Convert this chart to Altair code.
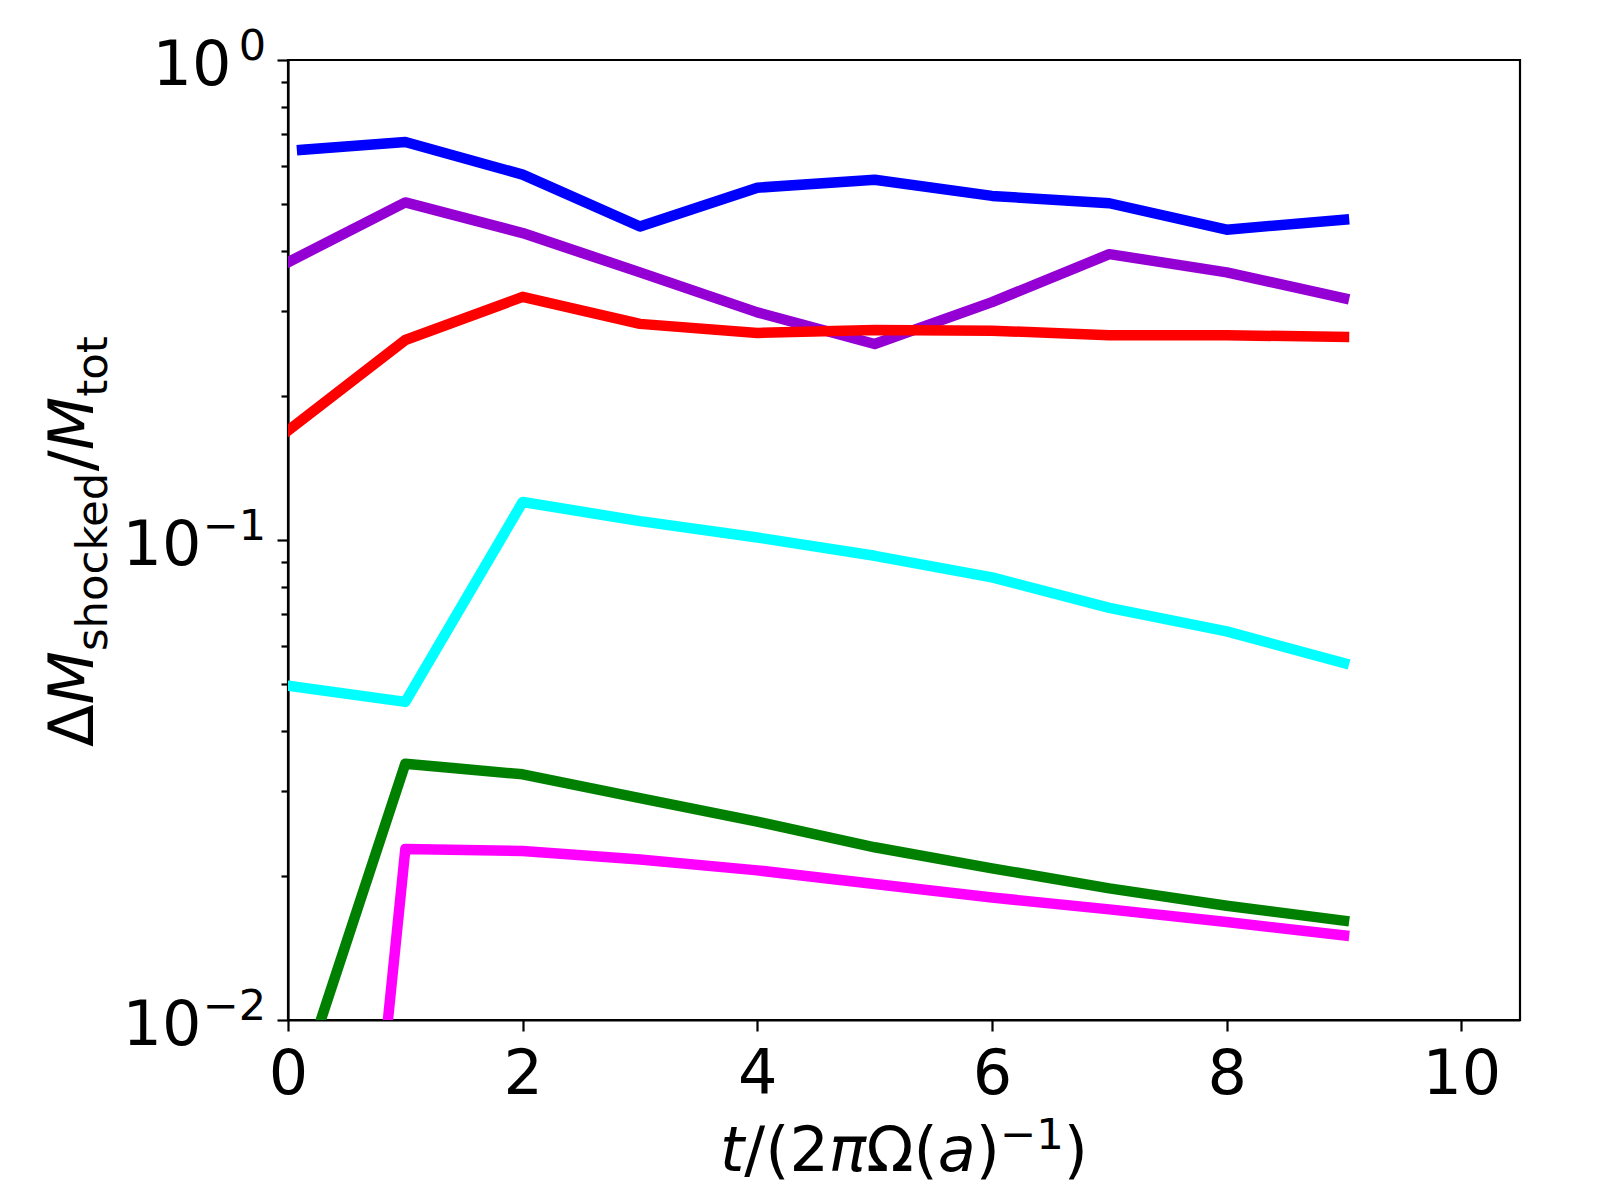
import altair as alt
import pandas as pd

# ---- data ----
x_vals = [0, 1, 2, 3, 4, 5, 6, 7, 8, 9]
x_blue = [0.12, 1, 2, 3, 4, 5, 6, 7, 8, 9]
blue = [0.650, 0.675, 0.577, 0.450, 0.542, 0.563, 0.521, 0.503, 0.443, 0.465]
purple = [0.379, 0.505, 0.436, 0.361, 0.298, 0.256, 0.313, 0.394, 0.361, 0.319]
red = [0.169, 0.261, 0.321, 0.282, 0.270, 0.274, 0.273, 0.267, 0.267, 0.265]
cyan = [0.0497, 0.0460, 0.120, 0.1095, 0.1012, 0.0927, 0.0836, 0.0722, 0.0645, 0.0554]
green = [0.0062, 0.0342, 0.0325, 0.0290, 0.0259, 0.0229, 0.0207, 0.0188, 0.0173, 0.0161]
magenta = [0.00009, 0.0227, 0.0225, 0.0216, 0.0205, 0.0192, 0.0180, 0.0170, 0.0160, 0.0150]

series_names = ["blue", "purple", "red", "cyan", "green", "magenta"]
series_colors = ["#0000ff", "#9400d3", "#ff0000", "#00ffff", "#008000", "#ff00ff"]

x_ticks = [0, 2, 4, 6, 8, 10]
y_major = [1, 0.1, 0.01]
y_exponents = ["0", "\u22121", "\u22122"]

FONT = "DejaVu Sans"
FS = 62

rows = []
for name, xs, ys in [("blue", x_blue, blue), ("purple", x_vals, purple), ("red", x_vals, red),
                     ("cyan", x_vals, cyan), ("green", x_vals, green), ("magenta", x_vals, magenta)]:
    for i, (xx, yy) in enumerate(zip(xs, ys)):
        rows.append({"series": name, "x": xx, "y": yy, "order": i})
df = pd.DataFrame(rows)

minor = []
for dec in [0.01, 0.1]:
    for k in range(1, 10):
        minor.append(round(k * dec, 10))
y_tick_values = minor + [1]

major_test = "datum.value == 1 || datum.value == 0.1 || datum.value == 0.01"

yscale = alt.Scale(type="log", domain=[0.01, 1], nice=False)
yaxis = alt.Axis(
    values=y_tick_values,
    labelExpr="(" + major_test + ") ? '10' : ''",
    labelFontSize=FS, labelFont=FONT, labelColor="black",
    labelBaseline="alphabetic", labelAlign="right", labelOffset=24,
    labelPadding={"condition": {"test": "datum.value == 1", "value": 46}, "value": 76},
    labelOverlap=False, labelBound=False, labelFlush=False,
    tickSize={"condition": {"test": major_test, "value": 11}, "value": 7},
    tickWidth=2.2, tickColor="black", domainColor="black", domainWidth=2.2,
    grid=False, title=None,
)
xaxis = alt.Axis(
    values=x_ticks, format="d",
    labelFontSize=FS, labelFont=FONT, labelColor="black", labelPadding=13,
    labelFlush=False, labelOverlap=False,
    tickSize=11, tickWidth=2.2, tickColor="black", domainColor="black", domainWidth=2.2,
    grid=False, title=None,
)

Y = alt.Y("y:Q", scale=yscale, axis=yaxis)

lines = alt.Chart(df).mark_line(
    strokeWidth=10.5, clip=True, strokeCap="square", strokeJoin="round"
).encode(
    x=alt.X("x:Q", scale=alt.Scale(domain=[0, 10.5], nice=False), axis=xaxis),
    y=Y,
    color=alt.Color("series:N", scale=alt.Scale(domain=series_names, range=series_colors), legend=None),
    detail="series:N",
    order="order:Q",
)

exp_df = pd.DataFrame({"y": y_major, "exp": y_exponents})
exps = alt.Chart(exp_df).mark_text(
    align="right", baseline="alphabetic", fontSize=round(FS * 0.7), font=FONT, color="black"
).encode(y=Y, x=alt.value(-22), text="exp:N")

# ---- mathtext-like titles built from pieces ----
ADV = {'Δ': 0.684, 'M': 0.863, '/': 0.337, '(': 0.390, ')': 0.390, '2': 0.636, 'π': 0.602,
       'Ω': 0.764, 'a': 0.613, 't': 0.392, '−': 0.838, '1': 0.636, 's': 0.521, 'h': 0.634,
       'o': 0.612, 'c': 0.550, 'k': 0.579, 'e': 0.615, 'd': 0.635}


def layout(pieces, start, direction):
    pos = start
    out = []
    for text, italic, kind in pieces:
        fs = FS * 0.7 if kind != "main" else FS
        out.append((text, italic, kind, pos, fs))
        pos += sum(ADV[c] for c in text) * fs * direction
    return out


one = alt.Data(values=[{"a": 1}])
title_layers = []

xt = [("t", True, "main"), ("/(2", False, "main"), ("π", True, "main"), ("Ω(", False, "main"),
      ("a", True, "main"), (")", False, "main"), ("−1", False, "sup"), (")", False, "main")]
for text, italic, kind, pos, fs in layout(xt, 432, 1):
    yb = 1111 - (22 if kind == "sup" else 0)
    title_layers.append(
        alt.Chart(one).mark_text(align="left", baseline="alphabetic", fontSize=fs, font=FONT,
                                 fontStyle="italic" if italic else "normal", color="black")
        .encode(x=alt.value(pos), y=alt.value(yb), text=alt.value(text))
    )

yt = [("Δ", False, "main"), ("M", True, "main"), ("shocked", False, "sub"), ("/", False, "main"),
      ("M", True, "main"), ("tot", False, "sub")]
for text, italic, kind, pos, fs in layout(yt, 687, -1):
    xb = -195 + (14 if kind == "sub" else 0)
    title_layers.append(
        alt.Chart(one).mark_text(align="left", baseline="alphabetic", fontSize=fs, font=FONT,
                                 fontStyle="italic" if italic else "normal", color="black", angle=270)
        .encode(x=alt.value(xb), y=alt.value(pos), text=alt.value(text))
    )

chart = alt.layer(lines, exps, *title_layers).properties(
    width=1232, height=960,
    autosize=alt.AutoSizeParams(type="none"),
    padding={"left": 280, "top": 52, "right": 60, "bottom": 178},
).configure(
    font=FONT, background="white",
    view=alt.ViewConfig(stroke="black", strokeWidth=2.2),
)

chart.save("out.html", embed_options={"renderer": "svg", "actions": False})
